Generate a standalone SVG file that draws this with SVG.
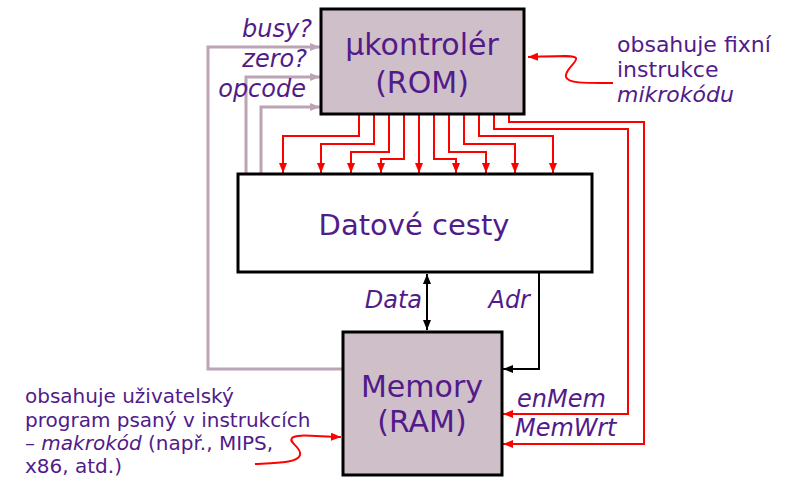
<svg xmlns="http://www.w3.org/2000/svg" width="785" height="487" viewBox="0 0 785 487">
<style>
.box{stroke:#000;stroke-width:3}
.lbl{font-family:"DejaVu Sans",Verdana,sans-serif;fill:#521b8a}
.big{font-size:30px;text-anchor:middle}
.it{font-style:italic;font-size:24px}
.note{font-size:20px}
.red{fill:none;stroke:#ff0000;stroke-width:2}
.gray{fill:none;stroke:#bba5b5;stroke-width:3}
.blk{fill:none;stroke:#000;stroke-width:2}
</style>
<defs>
<marker id="ar" markerUnits="userSpaceOnUse" markerWidth="10" markerHeight="8" refX="10" refY="4" orient="auto"><path d="M0,0 L10,4 L0,8 z" fill="#ff0000"/></marker>
<marker id="ag" markerUnits="userSpaceOnUse" markerWidth="10" markerHeight="8" refX="10" refY="4" orient="auto"><path d="M0,0 L10,4 L0,8 z" fill="#bba5b5"/></marker>
<marker id="ab" markerUnits="userSpaceOnUse" markerWidth="10" markerHeight="8" refX="10" refY="4" orient="auto-start-reverse"><path d="M0,0 L10,4 L0,8 z" fill="#000"/></marker>
</defs>
<g id="connectors">
<path class="gray" d="M343,369 H208 V47 H320" marker-end="url(#ag)"/>
<path class="gray" d="M246,174 V77 H320" marker-end="url(#ag)"/>
<path class="gray" d="M261,174 V107 H320" marker-end="url(#ag)"/>
<path class="red" d="M359,114 V136 H283 V173" marker-end="url(#ar)"/>
<path class="red" d="M374,114 V144 H321 V173" marker-end="url(#ar)"/>
<path class="red" d="M389,114 V152 H351 V173" marker-end="url(#ar)"/>
<path class="red" d="M404,114 V159 H381 V173" marker-end="url(#ar)"/>
<path class="red" d="M419,114 V173" marker-end="url(#ar)"/>
<path class="red" d="M434,114 V159 H456 V173" marker-end="url(#ar)"/>
<path class="red" d="M449,114 V152 H486 V173" marker-end="url(#ar)"/>
<path class="red" d="M464,114 V144 H515 V173" marker-end="url(#ar)"/>
<path class="red" d="M479,114 V136 H553 V173" marker-end="url(#ar)"/>
<path class="red" d="M494,114 V129 H628 V414 H503" marker-end="url(#ar)"/>
<path class="red" d="M509,114 V122 H644 V444 H503" marker-end="url(#ar)"/>
<path class="blk" d="M427,274 V330" marker-start="url(#ab)" marker-end="url(#ab)"/>
<path class="blk" d="M539,272 V369 H503" marker-end="url(#ab)"/>
<path class="red" d="M613,83 C590,83 568,84 566,77 C564,70 578,62 576,58 C574,55 560,56 528,57" marker-end="url(#ar)"/>
<path class="red" d="M255,464 C275,463 298,463 300,455 C302,447 288,443 292,438 C296,434 310,436 341,437" marker-end="url(#ar)"/>
</g>
<g id="rom">
<rect class="box" x="321" y="9" width="203" height="105" fill="#cfbfc8"/>
<text class="lbl big" x="422" y="55">μkontrolér</text>
<text class="lbl big" x="422" y="93">(ROM)</text>
</g>
<g id="datapath">
<rect class="box" x="238" y="174" width="354" height="98" fill="#fff"/>
<text class="lbl big" x="414" y="235" style="font-size:29px">Datové cesty</text>
</g>
<g id="memory">
<rect class="box" x="343" y="332" width="159" height="143" fill="#cfbfc8"/>
<text class="lbl big" x="422" y="397">Memory</text>
<text class="lbl big" x="422" y="432">(RAM)</text>
</g>
<g id="labels">
<text class="lbl it" x="312" y="37" text-anchor="end">busy?</text>
<text class="lbl it" x="307" y="67" text-anchor="end">zero?</text>
<text class="lbl it" x="306" y="97" text-anchor="end">opcode</text>
<text class="lbl it" x="422" y="308" text-anchor="end">Data</text>
<text class="lbl it" x="530" y="308" text-anchor="end">Adr</text>
<text class="lbl it" x="517" y="407">enMem</text>
<text class="lbl it" x="515" y="436">MemWrt</text>
</g>
<g id="note-rom">
<text class="lbl" style="font-size:22px" x="617" y="52">obsahuje fixní</text>
<text class="lbl" style="font-size:22px" x="617" y="77">instrukce</text>
<text class="lbl" style="font-size:22px;font-style:italic" x="617" y="102">mikrokódu</text>
</g>
<g id="note-ram">
<text class="lbl note" x="25" y="403">obsahuje uživatelský</text>
<text class="lbl note" x="25" y="427">program psaný v instrukcích</text>
<text class="lbl note" x="25" y="450">– <tspan font-style="italic">makrokód</tspan> (např., MIPS,</text>
<text class="lbl note" x="25" y="473">x86, atd.)</text>
</g>
</svg>
